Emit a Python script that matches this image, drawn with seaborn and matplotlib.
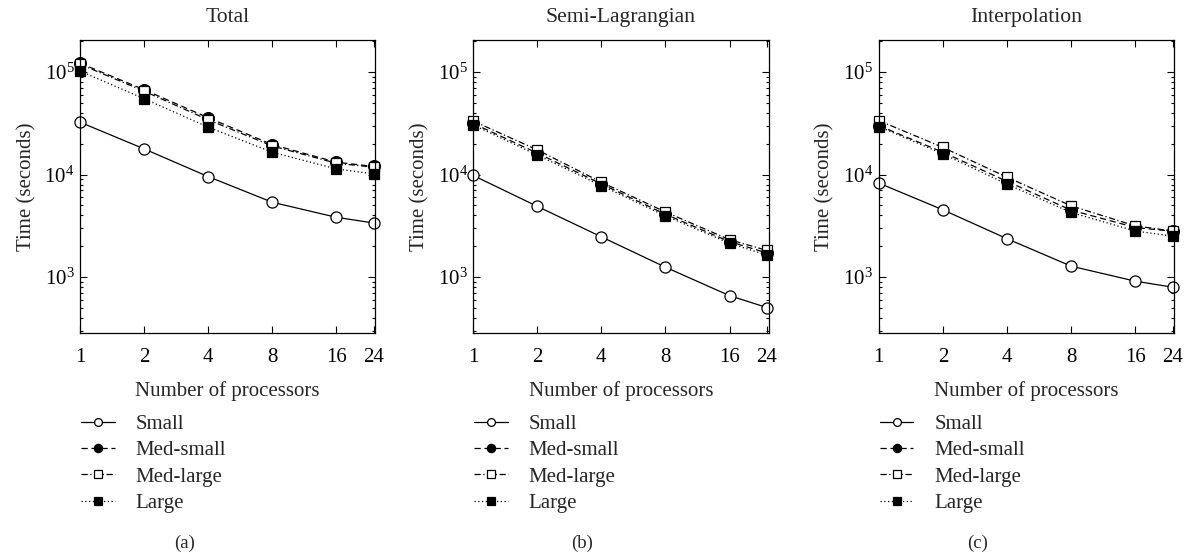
import matplotlib
matplotlib.use("Agg")
import matplotlib.pyplot as plt
import matplotlib.ticker as mticker
import seaborn as sns
import pandas as pd

# processors on the x axis
procs = [1, 2, 4, 8, 16, 24]
series_names = ["Small", "Med-small", "Med-large", "Large"]
panel_titles = ["Total", "Semi-Lagrangian", "Interpolation"]
panel_tags = ["(a)", "(b)", "(c)"]

# (a) total time
total_small = [32400, 17800, 9550, 5370, 3830, 3370]
total_medsmall = [122000, 67200, 35800, 19600, 13200, 12000]
total_medlarge = [119000, 65000, 34200, 19000, 12900, 11800]
total_large = [102000, 54900, 29000, 16500, 11350, 10150]

# (b) semi-lagrangian time
semi_small = [9800, 4900, 2470, 1250, 660, 505]
semi_medsmall = [31500, 16200, 8100, 4100, 2220, 1720]
semi_medlarge = [33300, 17400, 8420, 4320, 2320, 1820]
semi_large = [30500, 15500, 7800, 3950, 2140, 1640]

# (c) interpolation time
interp_small = [8260, 4530, 2370, 1280, 914, 798]
interp_medsmall = [30000, 16500, 8600, 4500, 3050, 2800]
interp_medlarge = [33600, 18400, 9420, 4960, 3160, 2820]
interp_large = [29400, 15900, 8070, 4270, 2820, 2510]

panels = [
    [total_small, total_medsmall, total_medlarge, total_large],
    [semi_small, semi_medsmall, semi_medlarge, semi_large],
    [interp_small, interp_medsmall, interp_medlarge, interp_large],
]

styles = {
    "Small": dict(linestyle="-", marker="o", markerfacecolor="white", markersize=8),
    "Med-small": dict(linestyle=(0, (5, 3)), marker="o", markerfacecolor="black", markersize=8.5),
    "Med-large": dict(linestyle=(0, (5, 2, 1, 2)), marker="s", markerfacecolor="white", markersize=7.5),
    "Large": dict(linestyle=(0, (1, 2)), marker="s", markerfacecolor="black", markersize=7.5),
}

sns.set_style("ticks")
plt.rcParams["font.family"] = ["Liberation Serif", "DejaVu Serif"]
plt.rcParams["mathtext.fontset"] = "custom"
plt.rcParams["mathtext.rm"] = "Liberation Serif"
plt.rcParams["font.size"] = 15

fig = plt.figure(figsize=(11.86, 5.56), dpi=100)
lefts = [0.0675, 0.399, 0.741]
tag_x = [0.156, 0.491, 0.824]

for i in range(3):
    ax = fig.add_axes([lefts[i], 0.401, 0.249, 0.527])
    for name, vals in zip(series_names, panels[i]):
        df = pd.DataFrame({"procs": procs, "time": vals})
        sns.lineplot(data=df, x="procs", y="time", ax=ax, color="black",
                     linewidth=0.9, markeredgecolor="black",
                     markeredgewidth=0.9, clip_on=False, label=name,
                     **styles[name])
    ax.set_xscale("log", base=2)
    ax.set_yscale("log")
    ax.set_xlim(1, 24.4)
    ax.set_ylim(285, 2.05e5)
    ax.set_xticks(procs)
    ax.set_xticklabels([str(p) for p in procs])
    ax.xaxis.set_minor_locator(mticker.NullLocator())
    ax.yaxis.set_major_locator(mticker.LogLocator(base=10, numticks=10))
    ax.yaxis.set_minor_locator(mticker.LogLocator(base=10, subs=range(2, 10), numticks=20))
    ax.yaxis.set_major_formatter(mticker.LogFormatterMathtext())
    ax.yaxis.set_minor_formatter(mticker.NullFormatter())
    ax.tick_params(which="both", direction="in", top=True, right=True,
                   color="black", labelcolor="black", width=0.8)
    ax.tick_params(which="major", length=5)
    ax.tick_params(axis="x", which="major", pad=11)
    ax.tick_params(axis="y", which="major", pad=4)
    ax.tick_params(which="minor", length=2.5)
    for sp in ax.spines.values():
        sp.set_visible(True)
        sp.set_linewidth(0.9)
        sp.set_color("black")
    ax.set_xlabel("Number of processors", labelpad=10)
    ax.set_ylabel("Time (seconds)", labelpad=6)
    ax.set_title(panel_titles[i], pad=13, fontsize=15.6)
    ax.legend(loc="upper left", bbox_to_anchor=(lefts[i] + 0.001, 0.255),
              bbox_transform=fig.transFigure, frameon=False,
              borderaxespad=0, borderpad=0, handlelength=1.6,
              handletextpad=1.0, labelspacing=0.33, markerscale=0.7)
    fig.text(tag_x[i], 0.023, panel_tags[i], ha="center", va="center", fontsize=13.5)

fig.savefig("out.png", dpi=100, facecolor="white")
